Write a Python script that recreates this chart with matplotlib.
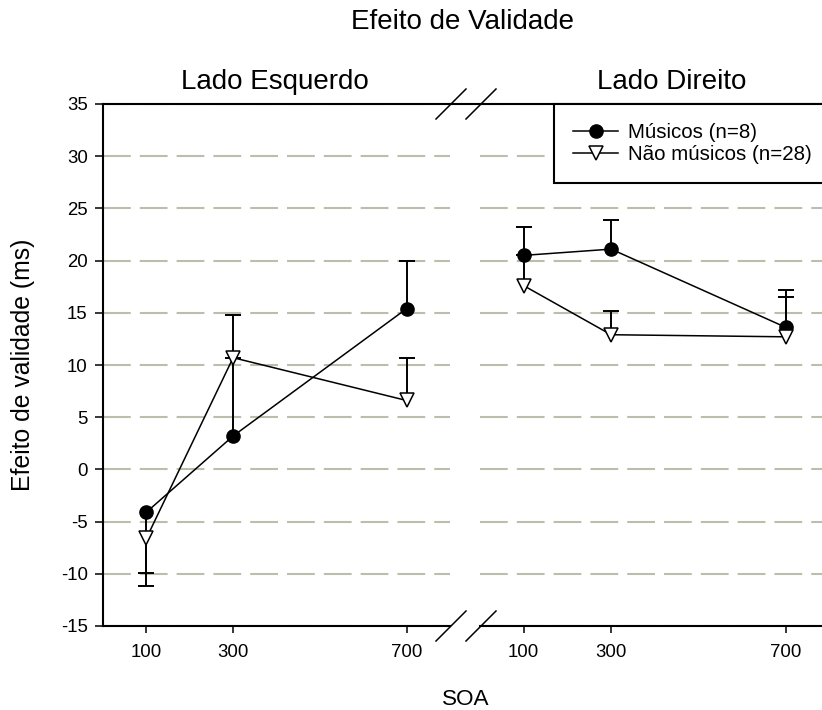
import matplotlib
matplotlib.use('Agg')
import matplotlib.pyplot as plt
from matplotlib.lines import Line2D

plt.rcParams['font.family'] = ['Liberation Sans', 'DejaVu Sans']
plt.rcParams['lines.scale_dashes'] = False
plt.rcParams['axes.unicode_minus'] = False

W, H = 822, 710

# SOA levels (ms)
soa = [100, 300, 700]

# left side: means and one-sided error (sign gives the direction of the bar)
esq_musicos = [-4.1, 3.2, 15.4]
esq_musicos_err = [-7.1, 7.5, 4.6]
esq_nao = [-6.6, 10.7, 6.6]
esq_nao_err = [-3.3, 4.1, 4.1]

# right side
dir_musicos = [20.5, 21.1, 13.6]
dir_musicos_err = [2.7, 2.8, 3.6]
dir_nao = [17.6, 12.9, 12.7]
dir_nao_err = [2.9, 2.3, 3.8]

labels = ['Músicos (n=8)', 'Não músicos (n=28)']
yticks = [-15, -10, -5, 0, 5, 10, 15, 20, 25, 30, 35]


def fx(px):
    return px / W


def fy(py):
    return 1 - py / H


fig = plt.figure(figsize=(W / 100, H / 100), dpi=100)
bottom, top = 626, 104
ax1 = fig.add_axes([fx(103), fy(bottom), (450 - 103) / W, (bottom - top) / H])
ax2 = fig.add_axes([fx(480), fy(bottom), (829.6 - 480) / W, (bottom - top) / H], sharey=ax1)


def draw_panel(ax, mus, mus_err, nao, nao_err):
    # one-sided error bars with caps at the far end
    for ys, es in ((mus, mus_err), (nao, nao_err)):
        ends = [y + e for y, e in zip(ys, es)]
        ax.vlines(soa, ys, ends, color='black', lw=1.4, zorder=2)
        ax.plot(soa, ends, ls='none', marker='_', ms=12.2, mew=1.4, color='black', zorder=2)
    l1, = ax.plot(soa, mus, '-', color='black', lw=1.1, marker='o', ms=9.5,
                  mfc='black', mec='black', zorder=4)
    l2, = ax.plot(soa, nao, '-', color='black', lw=1.1, marker='v', ms=10,
                  mfc='white', mec='black', mew=1.1, zorder=4)
    ax.set_xlim(0, 800)
    ax.set_xticks(soa)
    ax.set_xticklabels([str(s) for s in soa])
    ax.set_ylim(-15, 35)
    ax.set_yticks(yticks)
    ax.grid(axis='y', color='#BDBDAD', lw=1.5, ls=(0, (20, 6.5)), zorder=0)
    ax.grid(axis='x', visible=False)
    ax.spines['right'].set_visible(False)
    for s in ('top', 'bottom', 'left'):
        ax.spines[s].set_linewidth(1.5)
    ax.tick_params(axis='x', direction='out', length=5, width=1.1, pad=8, labelsize=13.4)
    ax.tick_params(axis='y', direction='out', length=6, width=1.1, pad=5, labelsize=13.4)
    return l1, l2


h1, h2 = draw_panel(ax1, esq_musicos, esq_musicos_err, esq_nao, esq_nao_err)
draw_panel(ax2, dir_musicos, dir_musicos_err, dir_nao, dir_nao_err)
ax2.spines['left'].set_visible(False)
ax2.tick_params(axis='y', left=False, labelleft=False)

# top frame runs across the break
fig.add_artist(Line2D([fx(449), fx(481)], [fy(top), fy(top)], color='black', lw=1.5))

# break marks on top and bottom frame
for cx in (451, 481):
    for cy in (top, bottom):
        fig.add_artist(Line2D([fx(cx - 15), fx(cx + 15)], [fy(cy + 15), fy(cy - 15)],
                              color='black', lw=1.1))

leg = fig.legend([h1, h2], labels, loc='upper left', bbox_to_anchor=(fx(554), fy(top)),
                 bbox_transform=fig.transFigure, borderaxespad=0, fontsize=14.8,
                 handlelength=2.2, handletextpad=0.49, borderpad=0.92, labelspacing=0.15,
                 fancybox=False, framealpha=1, edgecolor='black')
leg.get_frame().set_linewidth(1.5)

fig.text(fx(462), fy(29.3), 'Efeito de Validade', ha='center', va='baseline', fontsize=20)
fig.text(fx(275), fy(89.3), 'Lado Esquerdo', ha='center', va='baseline', fontsize=20)
fig.text(fx(672), fy(89.3), 'Lado Direito', ha='center', va='baseline', fontsize=20)
fig.text(fx(466), fy(705), 'SOA', ha='center', va='baseline', fontsize=16.2)
fig.text(fx(23), fy(365), 'Efeito de validade (ms)', ha='center', va='center',
         rotation=90, fontsize=17.8)

fig.savefig('out.png', dpi=100)
